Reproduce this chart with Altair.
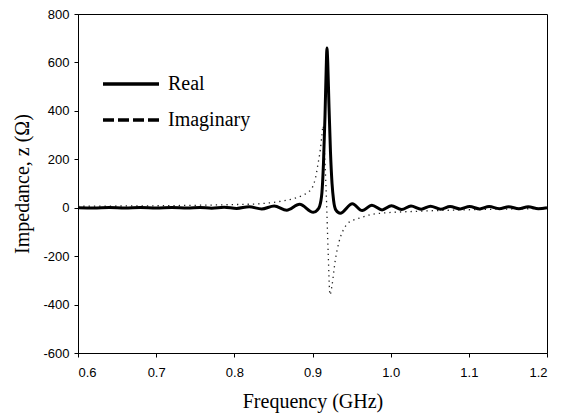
import altair as alt
import pandas as pd

# Real part (GHz, ohm)
real_freq = [0.600, 0.620, 0.640, 0.660, 0.680, 0.700, 0.720, 0.740, 0.756, 0.771, 0.787,
             0.803, 0.819, 0.835, 0.851, 0.867, 0.8835, 0.901, 0.906, 0.909, 0.912, 0.914,
             0.916, 0.9175, 0.9185, 0.9195, 0.921, 0.923, 0.925, 0.927, 0.930, 0.9355,
             0.951, 0.9636, 0.976, 0.989, 1.001, 1.014, 1.026, 1.039, 1.051, 1.064, 1.076,
             1.089, 1.101, 1.114, 1.126, 1.139, 1.151, 1.164, 1.176, 1.189, 1.200]
real_vals = [0, -1, 1, -1, 1, -1, 1, -1, 1, -2, 2,
             -3, 4, -5, 7, -10, 14, -19, -10, 5, 60, 180,
             380, 570, 660, 600, 430, 230, 100, 30, -10, -23,
             16, -12, 10, -9, 8, -7, 7, -6, 6, -6, 5,
             -5, 5, -5, 5, -4, 4, -4, 4, -4, 0]

# Imaginary part (GHz, ohm)
imag_freq = [0.60, 0.65, 0.70, 0.75, 0.80, 0.83, 0.85, 0.86, 0.87, 0.88, 0.89, 0.895,
             0.900, 0.904, 0.907, 0.910, 0.912, 0.9135, 0.9155, 0.918, 0.920, 0.9224,
             0.925, 0.929, 0.934, 0.939, 0.945, 0.952, 0.961, 0.975, 0.990, 1.010,
             1.040, 1.080, 1.120, 1.160, 1.200]
imag_vals = [6, 7, 8, 10, 13, 16, 22, 27, 33, 42, 55, 65,
             85, 125, 180, 240, 300, 338, 220, 20, -180, -360,
             -320, -220, -140, -95, -65, -52, -42, -28, -22, -18,
             -14, -10, -7, -5, -3]

x_ticks = [0.6, 0.7, 0.8, 0.9, 1.0, 1.1, 1.2]
y_ticks = [-600, -400, -200, 0, 200, 400, 600, 800]

real_df = pd.DataFrame({"f": real_freq, "z": real_vals})
imag_df = pd.DataFrame({"f": imag_freq, "z": imag_vals})

W, H = 469, 339

x_enc = alt.X("f:Q", scale=alt.Scale(domain=[0.6, 1.2], nice=False, zero=False),
              axis=alt.Axis(values=x_ticks, format=".1f", title="Frequency (GHz)",
                            grid=False, tickSize=4, labelPadding=9,
                            labelFont="Liberation Sans", labelFontSize=13, labelColor="black",
                            titleFont="Liberation Serif", titleFontSize=20,
                            titleFontWeight="normal", titleColor="black",
                            titleX=W / 2, titleY=54, titleBaseline="alphabetic",
                            domainColor="black", tickColor="black"))
y_enc = alt.Y("z:Q", scale=alt.Scale(domain=[-600, 800], nice=False, zero=False),
              axis=alt.Axis(values=y_ticks, title="Impedance, z (Ω)",
                            labelExpr="datum.value < 0 ? '-' + format(-datum.value, 'd') : format(datum.value, 'd')",
                            grid=False, tickSize=4, labelPadding=5,
                            labelFont="Liberation Sans", labelFontSize=13, labelColor="black",
                            titleFont="Liberation Serif", titleFontSize=20,
                            titleFontWeight="normal", titleColor="black",
                            titleAngle=270, titleX=-56, titleY=H / 2,
                            titleBaseline="middle", titleAlign="center",
                            domainColor="black", tickColor="black"))

imag_line = alt.Chart(imag_df).mark_line(
    color="#222222", strokeWidth=1.3, strokeDash=[1.3, 4], interpolate="monotone"
).encode(x=x_enc, y=y_enc)

real_line = alt.Chart(real_df).mark_line(
    color="black", strokeWidth=3, interpolate="monotone"
).encode(x=x_enc, y=y_enc)

one = alt.Data(values=[{"k": 0}])
leg_real = alt.Chart(one).mark_rule(color="black", strokeWidth=3.5).encode(
    x=alt.value(25), x2=alt.value(81), y=alt.value(70))
leg_imag = alt.Chart(one).mark_rule(color="black", strokeWidth=3.5, strokeDash=[11, 4]).encode(
    x=alt.value(25), x2=alt.value(81), y=alt.value(106))
txt_real = alt.Chart(one).mark_text(align="left", baseline="alphabetic",
                                    font="Liberation Serif", fontSize=20, color="black").encode(
    x=alt.value(90), y=alt.value(76), text=alt.value("Real"))
txt_imag = alt.Chart(one).mark_text(align="left", baseline="alphabetic",
                                    font="Liberation Serif", fontSize=20, color="black").encode(
    x=alt.value(90), y=alt.value(112), text=alt.value("Imaginary"))

chart = alt.layer(imag_line, real_line, leg_real, leg_imag, txt_real, txt_imag).properties(
    width=W, height=H,
    padding={"left": 70, "top": 6, "right": 8, "bottom": 62},
    autosize=alt.AutoSizeParams(type="none"),
    background="white",
).configure_view(stroke="black", strokeWidth=1)

chart.save("out.html", embed_options={"renderer": "svg", "actions": False})
